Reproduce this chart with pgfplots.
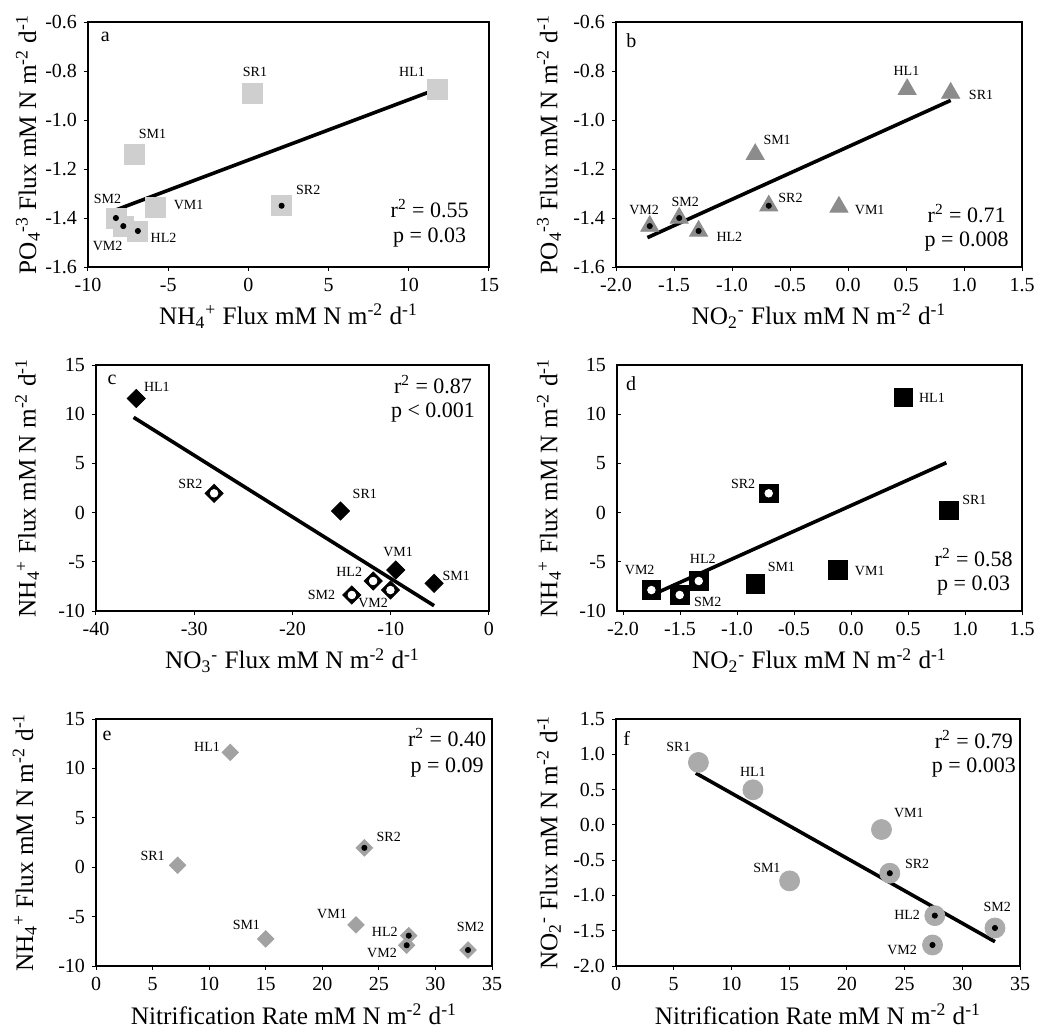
\documentclass[border=0pt]{standalone}
\usepackage{fontspec}
\setmainfont{Liberation Serif}
\usepackage{pgfplots}
\pgfplotsset{compat=1.18}

\definecolor{sqgray}{HTML}{CFCFCF}
\definecolor{trigray}{HTML}{8C8C8C}
\definecolor{diagray}{HTML}{A2A2A2}
\definecolor{cirgray}{HTML}{ABABAB}

\tikzset{
  onedec/.style={/pgf/number format/.cd, fixed, fixed zerofill, precision=1},
  plab/.style={font=\fontsize{7}{8}\selectfont, inner sep=0pt},
  stat/.style={font=\fontsize{11}{13}\selectfont, inner sep=0pt, anchor=base},
  letter/.style={font=\fontsize{10}{12}\selectfont, inner sep=0pt},
}
\pgfplotsset{
  panel/.style={
    scale only axis,
    axis line style={line width=0.9pt, black},
    tick style={black, line width=0.5pt},
    tick align=outside,
    major tick length=2pt,
    xtick pos=bottom, ytick pos=left,
    ticklabel style={font=\fontsize{10}{12}\selectfont},
    label style={font=\fontsize{12.6}{14}\selectfont},
    /pgf/number format/assume math mode=true,
    clip=false,
    xlabel style={at={(axis description cs:0.5,-0.235)}, anchor=base},
    ylabel style={anchor=center},
  },
  regline/.style={black, line width=1.8pt, no markers},
  bdot/.style={only marks, mark=*, mark size=1.3pt, black},
  wdot/.style={only marks, mark=*, mark size=1.9pt, white},
}

\begin{document}
\begin{tikzpicture}
\path[use as bounding box] (0,0) rectangle (518.5pt,-514.5pt);

% ---------------- a
\begin{axis}[panel, at={(44pt,-133.5pt)}, anchor=south west,
  width=200.5pt, height=122.5pt,
  xmin=-10, xmax=15, ymin=-1.6, ymax=-0.6,
  xtick={-10,-5,0,5,10,15}, ytick={-1.6,-1.4,-1.2,-1.0,-0.8,-0.6},
  yticklabel style={onedec},
  xlabel={NH\textsubscript{4}\textsuperscript{+} Flux mM N m\textsuperscript{-2} d\textsuperscript{-1}},
  ylabel={PO\textsubscript{4}\textsuperscript{-3} Flux mM N m\textsuperscript{-2} d\textsuperscript{-1}},
  ylabel style={at={(axis description cs:-0.15,0.5)}}]
\addplot[only marks, mark=square*, mark size=5pt, color=sqgray] coordinates {
 (11.8,-0.875) (0.27,-0.89) (-7.1,-1.14) (2.07,-1.35) (-5.77,-1.355) (-8.26,-1.40) (-7.8,-1.433) (-6.89,-1.453)};
\addplot[regline] coordinates {(-8.42,-1.371) (11.83,-0.872)};
\addplot[bdot] coordinates {(2.07,-1.35) (-8.26,-1.40) (-7.8,-1.433) (-6.89,-1.453)};
\node[plab] at (axis cs:0.41,-0.804) {SR1};
\node[plab] at (axis cs:10.2,-0.804) {HL1};
\node[plab] at (axis cs:-5.98,-1.056) {SM1};
\node[plab] at (axis cs:3.73,-1.287) {SR2};
\node[plab] at (axis cs:-8.78,-1.321) {SM2};
\node[plab] at (axis cs:-3.73,-1.348) {VM1};
\node[plab] at (axis cs:-5.29,-1.48) {HL2};
\node[plab] at (axis cs:-8.78,-1.516) {VM2};
\node[letter] at (axis cs:-8.92,-0.661) {a};
\node[stat] at (axis cs:11.3,-1.396) {r\textsuperscript{2} = 0.55};
\node[stat] at (axis cs:11.3,-1.498) {p = 0.03};
\end{axis}

% ---------------- b
\begin{axis}[panel, at={(308pt,-133.5pt)}, anchor=south west,
  width=203pt, height=122.5pt,
  xmin=-2, xmax=1.5, ymin=-1.6, ymax=-0.6,
  xtick={-2,-1.5,-1,-0.5,0,0.5,1,1.5}, ytick={-1.6,-1.4,-1.2,-1.0,-0.8,-0.6},
  xticklabel style={onedec}, yticklabel style={onedec},
  xlabel={NO\textsubscript{2}\textsuperscript{-} Flux mM N m\textsuperscript{-2} d\textsuperscript{-1}},
  ylabel={PO\textsubscript{4}\textsuperscript{-3} Flux mM N m\textsuperscript{-2} d\textsuperscript{-1}},
  ylabel style={at={(axis description cs:-0.165,0.5)}}]
\addplot[only marks, mark=triangle*, mark size=5.2pt, color=trigray] coordinates {
 (0.51,-0.875) (0.885,-0.89) (-0.80,-1.14) (-0.683,-1.35) (-0.078,-1.355) (-1.455,-1.40) (-1.709,-1.433) (-1.288,-1.453)};
\addplot[regline] coordinates {(-1.729,-1.480) (0.885,-0.92)};
\addplot[bdot] coordinates {(-0.683,-1.35) (-1.455,-1.40) (-1.709,-1.433) (-1.288,-1.453)};
\node[plab] at (axis cs:0.504,-0.801) {HL1};
\node[plab] at (axis cs:1.147,-0.899) {SR1};
\node[plab] at (axis cs:-0.611,-1.08) {SM1};
\node[plab] at (axis cs:-0.496,-1.317) {SR2};
\node[plab] at (axis cs:0.187,-1.369) {VM1};
\node[plab] at (axis cs:-1.758,-1.366) {VM2};
\node[plab] at (axis cs:-1.403,-1.335) {SM2};
\node[plab] at (axis cs:-1.023,-1.478) {HL2};
\node[letter] at (axis cs:-1.867,-0.678) {b};
\node[stat] at (axis cs:1.023,-1.420) {r\textsuperscript{2} = 0.71};
\node[stat] at (axis cs:1.023,-1.518) {p = 0.008};
\end{axis}

% ---------------- c
\begin{axis}[panel, at={(48pt,-305.5pt)}, anchor=south west,
  width=196.5pt, height=123pt,
  xmin=-40, xmax=0, ymin=-10, ymax=15,
  xtick={-40,-30,-20,-10,0}, ytick={-10,-5,0,5,10,15},
  xlabel={NO\textsubscript{3}\textsuperscript{-} Flux mM N m\textsuperscript{-2} d\textsuperscript{-1}},
  ylabel={NH\textsubscript{4}\textsuperscript{+} Flux mM N m\textsuperscript{-2} d\textsuperscript{-1}},
  ylabel style={at={(axis description cs:-0.175,0.5)}}]
\addplot[only marks, mark=square*, mark options={rotate=45}, mark size=3.2pt, color=black] coordinates {
 (-35.9,11.6) (-15.11,0.16) (-9.49,-5.83) (-5.59,-7.19)
 (-27.98,1.96) (-11.79,-6.95) (-10.03,-7.87) (-13.96,-8.37)};
\addplot[regline] coordinates {(-36.17,9.68) (-5.59,-9.46)};
\addplot[wdot] coordinates {(-27.98,1.96) (-11.79,-6.95) (-10.03,-7.87) (-13.96,-8.37)};
\node[plab] at (axis cs:-33.8,12.8) {HL1};
\node[plab] at (axis cs:-30.4,2.9) {SR2};
\node[plab] at (axis cs:-12.64,1.86) {SR1};
\node[plab] at (axis cs:-9.25,-4.04) {VM1};
\node[plab] at (axis cs:-3.33,-6.44) {SM1};
\node[plab] at (axis cs:-14.23,-6.0) {HL2};
\node[plab] at (axis cs:-17.04,-8.37) {SM2};
\node[plab] at (axis cs:-11.79,-9.22) {VM2};
\node[letter] at (axis cs:-38.37,13.48) {c};
\node[stat] at (axis cs:-5.7,12.12) {r\textsuperscript{2} = 0.87};
\node[stat] at (axis cs:-5.7,9.68) {p < 0.001};
\end{axis}

% ---------------- d
\begin{axis}[panel, at={(308.5pt,-305.5pt)}, anchor=south west,
  width=202.5pt, height=123pt,
  xmin=-2.053, xmax=1.5, ymin=-10, ymax=15,
  xtick={-2,-1.5,-1,-0.5,0,0.5,1,1.5}, ytick={-10,-5,0,5,10,15},
  xticklabel style={onedec},
  ytick style={xshift=2pt},
  xlabel={NO\textsubscript{2}\textsuperscript{-} Flux mM N m\textsuperscript{-2} d\textsuperscript{-1}},
  ylabel={NH\textsubscript{4}\textsuperscript{+} Flux mM N m\textsuperscript{-2} d\textsuperscript{-1}},
  ylabel style={at={(axis description cs:-0.168,0.5)}}]
\addplot[only marks, mark=square*, mark size=4.6pt, color=black] coordinates {
 (0.462,11.68) (0.857,0.2) (-0.114,-5.83) (-0.839,-7.26)
 (-0.722,1.96) (-1.336,-6.95) (-1.751,-7.87) (-1.503,-8.37)};
\addplot[regline] coordinates {(-1.746,-8.37) (0.836,5.07)};
\addplot[wdot] coordinates {(-0.722,1.96) (-1.336,-6.95) (-1.751,-7.87) (-1.503,-8.37)};
\node[plab] at (axis cs:0.71,11.71) {HL1};
\node[plab] at (axis cs:-0.947,2.91) {SR2};
\node[plab] at (axis cs:1.082,1.28) {SR1};
\node[plab] at (axis cs:0.164,-5.9) {VM1};
\node[plab] at (axis cs:-0.611,-5.49) {SM1};
\node[plab] at (axis cs:-1.301,-4.65) {HL2};
\node[plab] at (axis cs:-1.854,-5.83) {VM2};
\node[plab] at (axis cs:-1.257,-9.05) {SM2};
\node[letter] at (axis cs:-1.93,13.07) {d};
\node[stat] at (axis cs:1.076,-5.49) {r\textsuperscript{2} = 0.58};
\node[stat] at (axis cs:1.076,-7.93) {p = 0.03};
\end{axis}

% ---------------- e
\begin{axis}[panel, at={(48pt,-483pt)}, anchor=south west,
  width=198pt, height=123.5pt,
  xmin=0, xmax=35, ymin=-10, ymax=15,
  xtick={0,5,10,15,20,25,30,35}, ytick={-10,-5,0,5,10,15},
  xlabel={Nitrification Rate mM N m\textsuperscript{-2} d\textsuperscript{-1}},
  ylabel={NH\textsubscript{4}\textsuperscript{+} Flux mM N m\textsuperscript{-2} d\textsuperscript{-1}},
  ylabel style={at={(axis description cs:-0.18,0.5)}}]
\addplot[only marks, mark=square*, mark options={rotate=45}, mark size=2.9pt, color=diagray] coordinates {
 (11.87,11.62) (7.22,0.2) (23.72,1.96) (22.98,-5.84) (15.0,-7.26) (27.64,-6.93) (27.46,-7.9) (32.88,-8.38)};
\addplot[bdot] coordinates {(23.72,1.96) (27.64,-6.93) (27.46,-7.9) (32.88,-8.38)};
\node[plab] at (axis cs:9.81,12.23) {HL1};
\node[plab] at (axis cs:5.01,1.15) {SR1};
\node[plab] at (axis cs:25.87,3.04) {SR2};
\node[plab] at (axis cs:20.86,-4.76) {VM1};
\node[plab] at (axis cs:13.29,-5.84) {SM1};
\node[plab] at (axis cs:25.52,-6.52) {HL2};
\node[plab] at (axis cs:25.28,-8.65) {VM2};
\node[plab] at (axis cs:33.09,-6.08) {SM2};
\node[letter] at (axis cs:0.97,13.31) {e};
\node[stat] at (axis cs:31.03,12.23) {r\textsuperscript{2} = 0.40};
\node[stat] at (axis cs:31.03,9.63) {p = 0.09};
\end{axis}

% ---------------- f
\begin{axis}[panel, at={(308pt,-483pt)}, anchor=south west,
  width=202pt, height=123.5pt,
  xmin=0, xmax=35, ymin=-2, ymax=1.5,
  xtick={0,5,10,15,20,25,30,35}, ytick={-2,-1.5,-1,-0.5,0,0.5,1,1.5},
  yticklabel style={onedec},
  xlabel={Nitrification Rate mM N m\textsuperscript{-2} d\textsuperscript{-1}},
  ylabel={NO\textsubscript{2}\textsuperscript{-} Flux mM N m\textsuperscript{-2} d\textsuperscript{-1}},
  ylabel style={at={(axis description cs:-0.166,0.5)}}]
\addplot[only marks, mark=*, mark size=5pt, color=cirgray] coordinates {
 (7.14,0.885) (11.86,0.497) (23.0,-0.066) (23.72,-0.685) (15.04,-0.794) (27.62,-1.286) (32.83,-1.461) (27.42,-1.702)};
\addplot[regline] coordinates {(6.91,0.734) (32.83,-1.655)};
\addplot[bdot] coordinates {(23.72,-0.685) (27.62,-1.286) (32.83,-1.461) (27.42,-1.702)};
\node[plab] at (axis cs:5.41,1.098) {SR1};
\node[plab] at (axis cs:11.86,0.757) {HL1};
\node[plab] at (axis cs:25.37,0.166) {VM1};
\node[plab] at (axis cs:26.09,-0.553) {SR2};
\node[plab] at (axis cs:13.07,-0.605) {SM1};
\node[plab] at (axis cs:25.22,-1.277) {HL2};
\node[plab] at (axis cs:24.79,-1.773) {VM2};
\node[plab] at (axis cs:33.03,-1.168) {SM2};
\node[letter] at (axis cs:0.93,1.23) {f};
\node[stat] at (axis cs:31.0,1.088) {r\textsuperscript{2} = 0.79};
\node[stat] at (axis cs:31.0,0.748) {p = 0.003};
\end{axis}
\end{tikzpicture}
\end{document}
